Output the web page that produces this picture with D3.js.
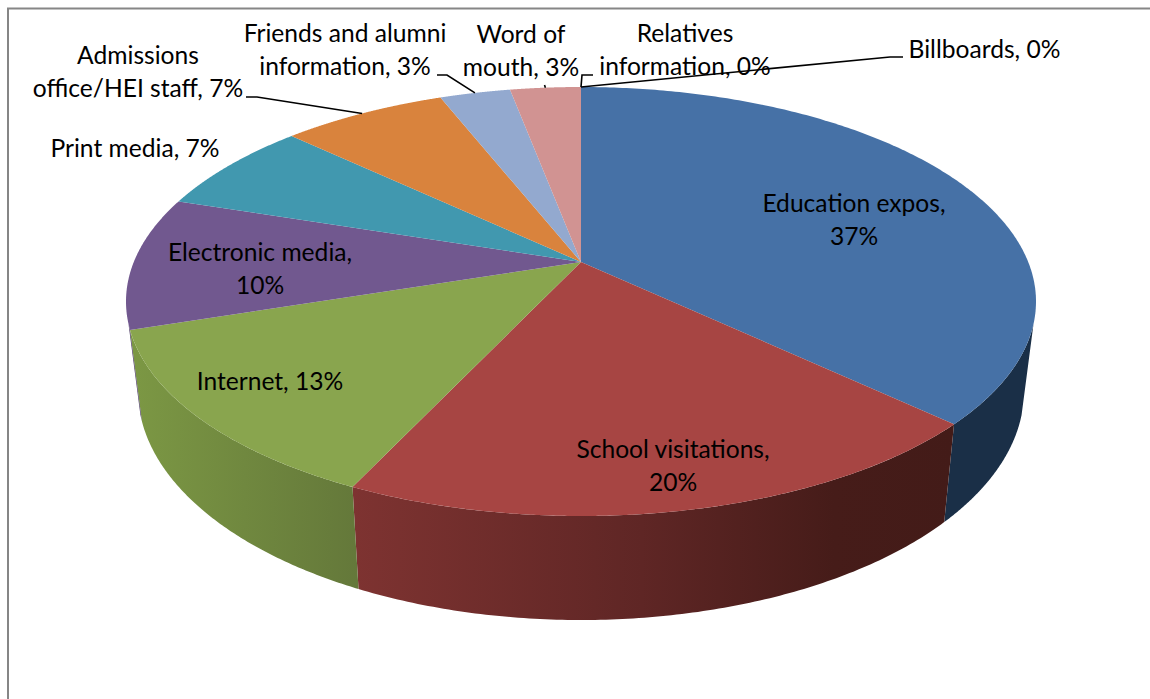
<!DOCTYPE html>
<html>
<head>
<meta charset="utf-8">
<script src="https://cdn.jsdelivr.net/npm/d3@7"></script>
<style>
  html, body { margin: 0; padding: 0; background: #fff; overflow: hidden; }
  svg { display: block; }
  text { font-family: Lato, "Noto Sans", sans-serif; fill: #000; }
</style>
</head>
<body>
<script>
// Recruitment channels and their share of responses
const categories = ["Education expos", "School visitations", "Internet", "Electronic media",
  "Print media", "Admissions office/HEI staff", "Friends and alumni information",
  "Word of mouth", "Relatives information", "Billboards"];
const shares = [37, 20, 13, 10, 7, 7, 3, 3, 0, 0];
const topColors = ["#4671a6", "#a74543", "#89a54e", "#71588f", "#4198af", "#d9833d", "#93a9cf", "#d19392", "#b2c2dd", "#c9dba0"];
const sideStops = [
  [["#1a2f47", 0], ["#1a2f47", 1]],
  [["#7e3331", 0], ["#5f2625", 0.48], ["#461c19", 0.8], ["#431b18", 1]],
  [["#7c9844", 0], ["#64783a", 1]],
  [["#4f3e66", 0], ["#4f3e66", 1]]
];

// Broken label lines per category
const labelLines = [
  ["Education expos,", "37%"], ["School visitations,", "20%"], ["Internet, 13%"],
  ["Electronic media,", "10%"], ["Print media, 7%"], ["Admissions", "office/HEI staff, 7%"],
  ["Friends and alumni", "information, 3%"], ["Word of", "mouth, 3%"],
  ["Relatives", "information, 0%"], ["Billboards, 0%"]
];
// Anchor of each label's first baseline
const labelAnchors = [
  [854, 212], [673, 458], [270, 390], [260, 261], [135, 157],
  [138, 64], [345, 42], [521, 43], [685, 42], [984.5, 58]
];
// Leader lines: label side points, the last one is computed on the pie's rim
const leaderElbows = {
  5: [[246, 97], [257, 97]],
  6: [[437, 75], [447, 75]],
  7: [[544.5, 85]],
  8: [[593, 75], [582, 75]],
  9: [[903, 57], [890, 57]]
};

const W = 1150, H = 699;
const upper = { cx: 581, cy: 301.5, rx: 455, ry: 214.5 };
const lower = { cx: 581, cy: 391, rx: 443, ry: 229 };
const perspective = 0.83;                // foreshortening of the disc's angles
const sideFrom = 96 * Math.PI / 180;     // visible part of the side wall
const sideTo = 264 * Math.PI / 180;
const fontSize = 24.6, lineGap = 33;

const svg = d3.select("body").append("svg").attr("width", W).attr("height", H);
const defs = svg.append("defs");

// Chart frame: only the top and left edges fall inside the view
svg.append("path").attr("d", `M8 ${H}V8.5H${W}`).attr("fill", "none")
  .attr("stroke", "#868686").attr("stroke-width", 2);

const warp = t => 2 * Math.atan2(perspective * Math.sin(t / 2), Math.cos(t / 2));
const onRim = (e, a) => [e.cx + e.rx * Math.sin(a), e.cy - e.ry * Math.cos(a)];
const sweep = (a0, a1, n) => d3.range(0, n + 1).map(k => a0 + (a1 - a0) * k / n);

// Under perspective the disc's centre lands behind the ellipse's centre
const k2 = perspective * perspective;
const apex = [upper.cx, upper.cy - upper.ry * (1 - k2) / (1 + k2)];

const slices = d3.pie().sort(null).value(d => d)(shares).map((d, i) => ({
  i, a0: warp(d.startAngle), a1: warp(d.endAngle)
}));

// Side walls
const line = d3.line();
slices.forEach(s => {
  const a0 = Math.max(s.a0, sideFrom), a1 = Math.min(s.a1, sideTo);
  if (a1 <= a0) return;
  const angles = sweep(a0, a1, 120);
  const pts = angles.map(a => onRim(upper, a)).concat(angles.slice().reverse().map(a => onRim(lower, a)));
  const xs = d3.extent(pts, p => p[0]);
  const id = `side-${s.i}`;
  const grad = defs.append("linearGradient").attr("id", id)
    .attr("gradientUnits", "userSpaceOnUse")
    .attr("x1", xs[0]).attr("x2", xs[1]).attr("y1", 0).attr("y2", 0);
  grad.selectAll("stop").data(sideStops[s.i]).join("stop")
    .attr("offset", d => d[1]).attr("stop-color", d => d[0]);
  svg.append("path").attr("d", line(pts) + "Z").attr("fill", `url(#${id})`);
});

// Top face
svg.append("g").selectAll("path").data(slices.filter(s => s.a1 > s.a0)).join("path")
  .attr("d", s => line([apex].concat(sweep(s.a0, s.a1, 240).map(a => onRim(upper, a)))) + "Z")
  .attr("fill", s => topColors[s.i]);

// Leader lines
Object.entries(leaderElbows).forEach(([k, pts]) => {
  const s = slices[+k];
  const end = onRim(upper, (s.a0 + s.a1) / 2);
  svg.append("path").attr("d", line(pts.concat([end])))
    .attr("fill", "none").attr("stroke", "#000").attr("stroke-width", 1.6);
});

// Labels
labelLines.forEach((lines, i) => {
  const [x, y] = labelAnchors[i];
  const t = svg.append("text").attr("font-size", fontSize).attr("text-anchor", "middle");
  lines.forEach((str, j) => {
    t.append("tspan").attr("x", x).attr("y", y + j * lineGap).text(str);
  });
});
</script>
</body>
</html>
